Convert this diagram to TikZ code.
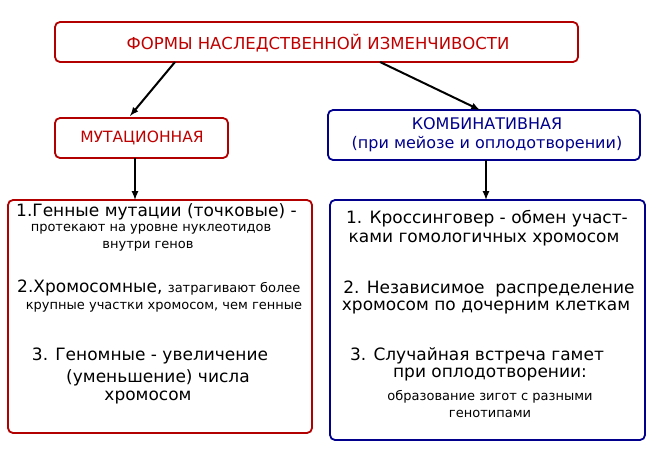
\documentclass[tikz,border=0pt]{standalone}
\usepackage{fontspec}
\setmainfont{DejaVu Sans}
\begin{document}
\begin{tikzpicture}[x=1pt,y=-1pt,
  redbox/.style={draw=red!70!black,line width=1.8pt,rounded corners=5pt},
  bluebox/.style={draw=blue!55!black,line width=1.8pt,rounded corners=5pt},
  arr/.style={-latex,line width=2pt},
  big/.style={font=\fontsize{17}{19}\selectfont,inner sep=0pt},
  sm/.style={font=\fontsize{13}{14}\selectfont,inner sep=0pt}]
\useasboundingbox (0,0) rectangle (653,458);
\draw[redbox] (55,22) rectangle (578,62);
\node (t) at (318,43) {\fontsize{16.5}{18}\selectfont\color{red!75!black}ФОРМЫ НАСЛЕДСТВЕННОЙ ИЗМЕНЧИВОСТИ};
\coordinate (t1) at (175,62); \coordinate (t2) at (380,62);
\draw[redbox] (55,118) rectangle (228,158);
\node (m) at (142,138) {\fontsize{15.5}{17}\selectfont\color{red!75!black}МУТАЦИОННАЯ};
\draw[bluebox] (328,110) rectangle (640,160);
\node[align=center,font=\fontsize{16}{19}\selectfont,text=blue!55!black] (k) at (487,135) {КОМБИНАТИВНАЯ\\(при мейозе и оплодотворении)};
\coordinate (m0) at (130,116); \coordinate (k0) at (480,110);
\draw[arr] (t1) -- (m0);
\draw[arr] (t2) -- (k0);
\draw[redbox] (8,200) rectangle (312,433);
\draw[bluebox] (330,200) rectangle (645,440);
\coordinate (ms) at (135,158); \coordinate (me) at (135,200);
\coordinate (ks) at (486,160); \coordinate (ke) at (486,200);
\draw[arr] (ms) -- (me);
\draw[arr] (ks) -- (ke);
% left
\node[big,anchor=west] (l1) at (16,212) {1.Генные мутации (точковые) -};
\node[sm] (l1a) at (151,229) {протекают на уровне нуклеотидов};
\node[sm] (l1b) at (148,246) {внутри генов};
\node[anchor=west,inner sep=0pt] (l2) at (17,288) {\fontsize{17}{19}\selectfont 2.Хромосомные, \fontsize{13}{14}\selectfont затрагивают более};
\node[sm] (l2a) at (164,307) {крупные участки хромосом, чем генные};
\node[big] (l3) at (150,356) {3. Геномные - увеличение};
\node[big] (l3a) at (158,378) {(уменьшение) числа};
\node[big] (l3b) at (148,398) {хромосом};
% right
\node[big] (r1) at (487,219) {1. Кроссинговер - обмен участ-};
\node[big] (r1a) at (484,240) {ками гомологичных хромосом};
\node[big] (r2) at (489,289) {2. Независимое\ \ распределение};
\node[big] (r2a) at (486,308) {хромосом по дочерним клеткам};
\node[big] (r3) at (477,356) {3. Случайная встреча гамет};
\node[big] (r3a) at (490,375) {при оплодотворении:};
\node[sm] (r3b) at (490,397) {образование зигот с разными};
\node[sm] (r3c) at (490,414) {генотипами};
\end{tikzpicture}
\end{document}
